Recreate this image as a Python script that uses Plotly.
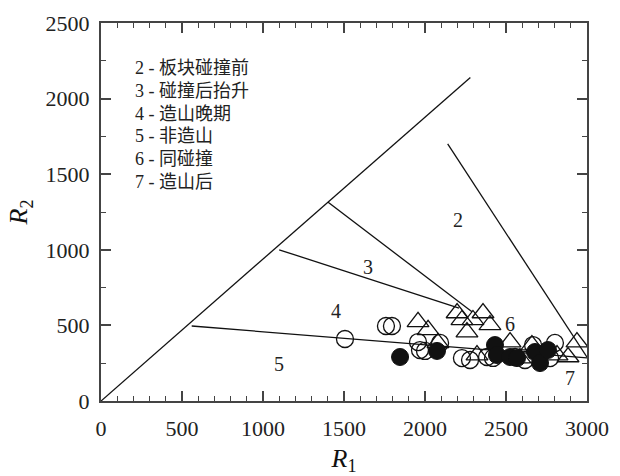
import plotly.graph_objects as go

# R1-R2 multicationic discrimination diagram
# Sample groups
open_circle_r1 = [1506, 1759, 1796, 1957, 1969, 2000, 2093, 2228, 2278, 2383, 2420, 2556, 2617, 2667, 2772, 2802]
open_circle_r2 = [410, 496, 496, 390, 337, 331, 384, 284, 271, 291, 285, 291, 271, 370, 284, 384]

triangle_r1 = [1957, 2019, 2080, 2198, 2228, 2259, 2296, 2358, 2401, 2321, 2525, 2586, 2660, 2815, 2883, 2938]
triangle_r2 = [523, 470, 384, 582, 536, 456, 536, 582, 503, 304, 390, 284, 370, 304, 291, 390]

filled_r1 = [1846, 2074, 2432, 2444, 2525, 2568, 2679, 2710, 2759]
filled_r2 = [291, 331, 370, 304, 291, 284, 324, 251, 337]

# Field boundary segments: (R1 start, R1 end), (R2 start, R2 end)
boundary_r1 = [(0, 2280), (1400, 2290), (1100, 2210), (560, 3000), (2140, 3000)]
boundary_r2 = [(0, 2140), (1316, 590), (1000, 615), (496, 285), (1700, 290)]

# Field numbers
field_labels = ["2", "3", "4", "5", "6", "7"]
field_r1 = [2204, 1648, 1450, 1099, 2525, 2895]
field_r2 = [1197, 886, 595, 245, 509, 152]

# Key to the fields
key_lines = ["2 - 板块碰撞前", "3 - 碰撞后抬升", "4 - 造山晚期", "5 - 非造山", "6 - 同碰撞", "7 - 造山后"]
key_r2 = [2200, 2050, 1900, 1750, 1600, 1450]

R1_RANGE = [0, 3000]
R2_RANGE = [0, 2500]

SERIF = "Liberation Serif, DejaVu Serif, serif"
MIXED = "Liberation Serif, Noto Sans CJK SC, serif"
FRAME = "#444"

fig = go.Figure()

for xs, ys in zip(boundary_r1, boundary_r2):
    fig.add_trace(go.Scatter(x=list(xs), y=list(ys), mode="lines",
                             line=dict(color="#111", width=1.3),
                             hoverinfo="skip", showlegend=False))

fig.add_trace(go.Scatter(x=open_circle_r1, y=open_circle_r2, mode="markers",
                         marker=dict(symbol="circle-open", size=17,
                                     line=dict(color="#111", width=1.3), color="#111"),
                         showlegend=False))
fig.add_trace(go.Scatter(x=triangle_r1, y=triangle_r2, mode="markers",
                         marker=dict(symbol="triangle-up-open", size=19,
                                     line=dict(color="#111", width=1.3), color="#111"),
                         showlegend=False))
fig.add_trace(go.Scatter(x=filled_r1, y=filled_r2, mode="markers",
                         marker=dict(symbol="circle", size=17, color="#111",
                                     line=dict(color="#111", width=1)),
                         showlegend=False))

for t, x, y in zip(field_labels, field_r1, field_r2):
    fig.add_annotation(x=x, y=y, text=t, showarrow=False,
                       font=dict(family=SERIF, size=20, color="#222"))

for t, y in zip(key_lines, key_r2):
    fig.add_annotation(x=200, y=y, text=t, showarrow=False, xanchor="left",
                       font=dict(family=MIXED, size=18, color="#222"))

tick_style = dict(ticks="inside", ticklen=10, tickwidth=1.6, tickcolor=FRAME)
line_style = dict(showline=True, linecolor=FRAME, linewidth=2,
                  showgrid=False, zeroline=False, automargin=False)
x_minor = dict(dtick=100, ticks="inside", ticklen=5, tickcolor=FRAME, tickwidth=1.3)
y_minor = dict(dtick=250, ticks="inside", ticklen=5, tickcolor=FRAME, tickwidth=1.3)
tickfont = dict(family=SERIF, size=22, color="#222")

fig.update_layout(
    width=620, height=476,
    margin=dict(l=101, r=33, t=23, b=75),
    paper_bgcolor="white", plot_bgcolor="white",
    showlegend=False,
    xaxis=dict(range=R1_RANGE, dtick=500, tick0=0, minor=x_minor,
               tickfont=tickfont, ticklabelstandoff=7,
               title=dict(text="<i>R</i><sub>1</sub>",
                          font=dict(family=SERIF, size=26, color="#111"), standoff=12),
               **tick_style, **line_style),
    yaxis=dict(range=R2_RANGE, dtick=500, tick0=0, minor=y_minor,
               tickfont=tickfont, ticklabelstandoff=5,
               title=dict(text="<i>R</i><sub>2</sub>",
                          font=dict(family=SERIF, size=26, color="#111"), standoff=10),
               **tick_style, **line_style),
    # mirrored frame on top and right, with the same tick marks
    xaxis2=dict(range=R1_RANGE, dtick=500, tick0=0, minor=x_minor, overlaying="x",
                side="top", showticklabels=False, matches="x",
                **tick_style, **line_style),
    yaxis2=dict(range=R2_RANGE, dtick=500, tick0=0, minor=y_minor, overlaying="y",
                side="right", showticklabels=False, matches="y",
                **tick_style, **line_style),
)

# invisible trace so the mirrored axes are drawn
fig.add_trace(go.Scatter(x=[None], y=[None], xaxis="x2", yaxis="y2",
                         mode="markers", showlegend=False, hoverinfo="skip"))

fig.write_html("out.html")
